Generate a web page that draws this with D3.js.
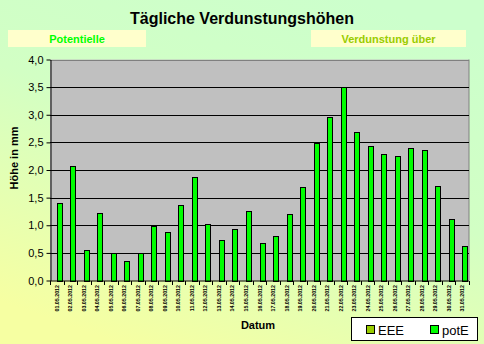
<!DOCTYPE html>
<html><head><meta charset="utf-8">
<script src="https://cdn.jsdelivr.net/npm/d3@7"></script>
<style>html,body{margin:0;padding:0;}svg{display:block;}</style>
</head><body>
<script>
const dates = ["01.05.2012","02.05.2012","03.05.2012","04.05.2012","05.05.2012","06.05.2012","07.05.2012","08.05.2012","09.05.2012","10.05.2012","11.05.2012","12.05.2012","13.05.2012","14.05.2012","15.05.2012","16.05.2012","17.05.2012","18.05.2012","19.05.2012","20.05.2012","21.05.2012","22.05.2012","23.05.2012","24.05.2012","25.05.2012","26.05.2012","27.05.2012","28.05.2012","29.05.2012","30.05.2012","31.05.2012"];
const potE = [1.41,2.08,0.56,1.23,0.49,0.36,0.50,0.98,0.88,1.37,1.88,1.03,0.74,0.94,1.26,0.68,0.81,1.21,1.70,2.49,2.96,3.50,2.69,2.44,2.29,2.26,2.40,2.37,1.71,1.12,0.63];
const EEE = dates.map(() => null);
const yTicks = [0,0.5,1,1.5,2,2.5,3,3.5,4];
const seriesNames = ["EEE","potE"];
const seriesColors = ["#99CC00","#00FF00"];

(function(){
const W = 484, H = 344;
const svg = d3.select("body").append("svg").attr("width", W).attr("height", H);
const defs = svg.append("defs");
const grad = defs.append("linearGradient").attr("id","bg").attr("x1","0.75").attr("y1","0").attr("x2","0.25").attr("y2","1");
grad.append("stop").attr("offset","0").attr("stop-color","#CCFFCC");
grad.append("stop").attr("offset","0.45").attr("stop-color","#D2FFC4");
grad.append("stop").attr("offset","1").attr("stop-color","#F6FFA2");
svg.append("rect").attr("width",W).attr("height",H).attr("fill","url(#bg)");

const font = "'Liberation Sans', Arial, sans-serif";
svg.append("text").attr("x",242).attr("y",24).attr("text-anchor","middle")
  .attr("font-family",font).attr("font-size",16).attr("font-weight","bold").attr("fill","#000")
  .text("Tägliche Verdunstungshöhen");

svg.append("rect").attr("x",8).attr("y",30).attr("width",138).attr("height",17).attr("fill","#FFFFCC");
svg.append("text").attr("x",77).attr("y",43).attr("text-anchor","middle").attr("font-family",font)
  .attr("font-size",11).attr("font-weight","bold").attr("fill","#00FF00").text("Potentielle");
svg.append("rect").attr("x",311).attr("y",30).attr("width",155).attr("height",17).attr("fill","#FFFFCC");
svg.append("text").attr("x",388.5).attr("y",43).attr("text-anchor","middle").attr("font-family",font)
  .attr("font-size",11).attr("font-weight","bold").attr("fill","#99CC00").text("Verdunstung über");

const pL = 50, pR = 469, pT = 59.5, pB = 280.5;
const x = d3.scaleBand().domain(dates).range([pL, pR]).paddingInner(0).paddingOuter(0);
const x1 = d3.scaleBand().domain(seriesNames).range([0, x.bandwidth()]).paddingInner(0).paddingOuter(0.05);
const y = d3.scaleLinear().domain([0,4]).range([pB, pT]);

svg.append("rect").attr("x",pL).attr("y",pT).attr("width",pR-pL).attr("height",pB-pT).attr("fill","#C0C0C0");
svg.append("line").attr("x1",pR).attr("x2",pR).attr("y1",pT).attr("y2",pB).attr("stroke","#808080").attr("stroke-width",1);

svg.append("g").selectAll("line").data(yTicks.filter(d => d > 0)).join("line")
  .attr("x1",pL).attr("x2",pR).attr("y1",d => Math.round(y(d))+0.5).attr("y2",d => Math.round(y(d))+0.5)
  .attr("stroke", d => d === 4 ? "#808080" : "#000").attr("stroke-width",1);

const rows = dates.map((d,i) => ({date:d, vals:[EEE[i], potE[i]]}));
const g = svg.append("g");
rows.forEach(r => {
  r.vals.forEach((v,j) => {
    if (v == null) return;
    g.append("rect")
      .attr("x", Math.round(x(r.date) + x1(seriesNames[j])) + 0.5)
      .attr("y", Math.round(y(v)) + 0.5)
      .attr("width", Math.round(x1.bandwidth()) - 1)
      .attr("height", Math.round(y(0)) - Math.round(y(v)))
      .attr("fill", seriesColors[j]).attr("stroke","#000").attr("stroke-width",1);
  });
});

const yAxis = d3.axisLeft(y).tickValues(yTicks).tickSize(4).tickSizeOuter(0)
  .tickFormat(d => d3.format(".1f")(d).replace(".", ","));
const ya = svg.append("g").attr("transform",`translate(${pL+0.5},0)`).call(yAxis);
ya.select(".domain").attr("stroke","#000");
ya.selectAll("text").attr("font-family",font).attr("font-size",11).attr("fill","#000").attr("x",-7);

const xa = svg.append("g").attr("transform",`translate(0,${pB+0.5})`);
xa.append("line").attr("x1",pL).attr("x2",pR).attr("stroke","#000");
xa.selectAll("line.tk").data(d3.range(dates.length+1)).join("line").attr("class","tk")
  .attr("x1", i => Math.round(pL + i*x.bandwidth())+0.5).attr("x2", i => Math.round(pL + i*x.bandwidth())+0.5)
  .attr("y1",0).attr("y2",4).attr("stroke","#000");
xa.selectAll("text").data(dates).join("text")
  .attr("transform", d => `translate(${x(d)+x.bandwidth()/2+2},4) rotate(-90)`)
  .attr("text-anchor","end").attr("font-family",font).attr("font-size",5.3).attr("font-weight","bold")
  .attr("fill","#000").text(d => d);

svg.append("text").attr("x",258).attr("y",329).attr("text-anchor","middle").attr("font-family",font)
  .attr("font-size",11).attr("font-weight","bold").text("Datum");
svg.append("text").attr("transform","translate(18,158) rotate(-90)").attr("text-anchor","middle")
  .attr("font-family",font).attr("font-size",11).attr("font-weight","bold").text("Höhe in mm");

const lg = svg.append("g");
lg.append("rect").attr("x",351.5).attr("y",317.5).attr("width",126).attr("height",23).attr("fill","#fff").attr("stroke","#000");
const lx = [367, 431];
seriesNames.forEach((n,i) => {
  lg.append("rect").attr("x",lx[i]-0.5).attr("y",325.5).attr("width",8).attr("height",8).attr("fill",seriesColors[i]).attr("stroke","#000");
  lg.append("text").attr("x",lx[i]+11).attr("y",335).attr("font-family",font).attr("font-size",13).attr("fill","#000").text(n);
});
})();
</script>
</body></html>
